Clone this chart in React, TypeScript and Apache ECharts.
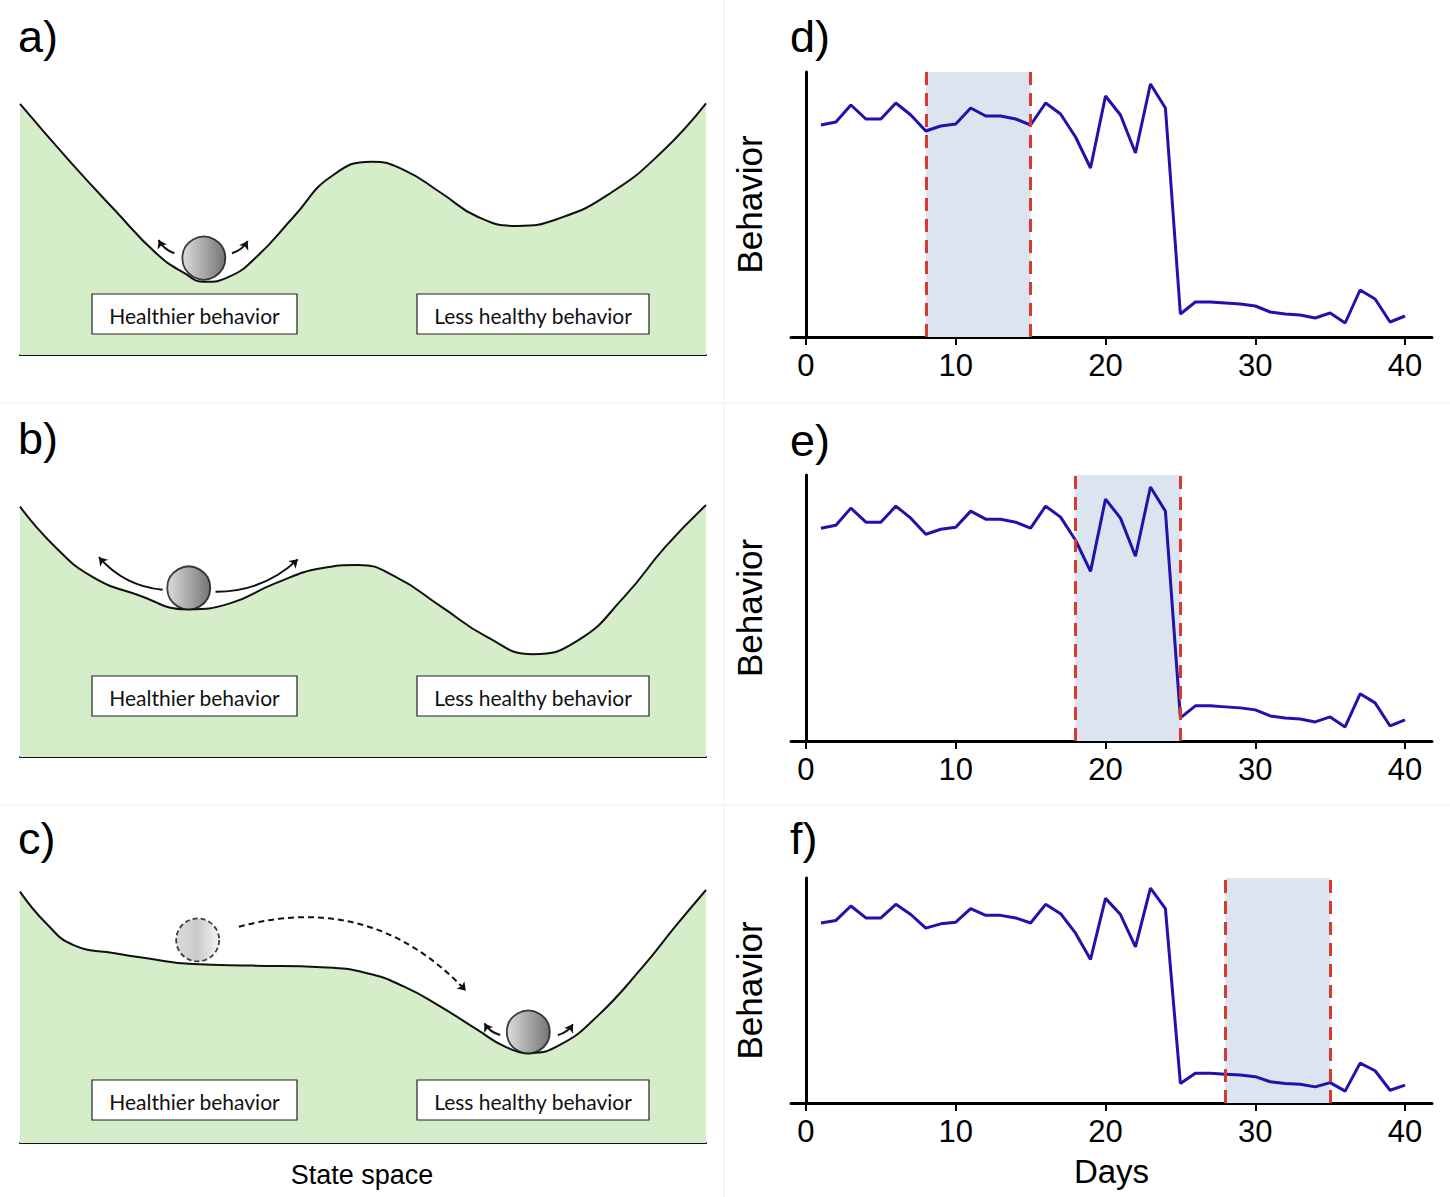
import React, { useEffect, useRef } from 'react';
import * as echarts from 'echarts';

// ---------- Data: right panels (d, e, f) ----------
const days = [1, 2, 3, 4, 5, 6, 7, 8, 9, 10, 11, 12, 13, 14, 15, 16, 17, 18, 19, 20,
  21, 22, 23, 24, 25, 26, 27, 28, 29, 30, 31, 32, 33, 34, 35, 36, 37, 38, 39, 40];
const behavior = [212, 215, 232, 218, 218, 234, 222, 206, 211, 213, 229, 221, 221, 218, 212, 234, 223, 200, 169, 241,
  222, 184, 253, 229, 23, 35, 35, 34, 33, 31, 25, 23, 22, 19, 24, 14, 47, 38, 15, 21];
const windowD = [8, 15];
const windowE = [18, 25];
const windowF = [28, 35];
const xTickValues = [0, 10, 20, 30, 40];

// ---------- Data: left panels (a, b, c) — landscape (state space, potential) ----------
const landscapeA = [[0, 93.0], [7.1, 72.2], [13.8, 53.7], [19.8, 37.8], [23.9, 30.4], [26.9, 27.1], [30.5, 29.0],
  [34.5, 36.4], [39.9, 51.2], [45.3, 66.0], [51.3, 71.6], [56.0, 68.5], [61.4, 60.0], [66.7, 51.2], [72.4, 47.8],
  [78.7, 50.7], [86.1, 60.0], [93.4, 74.8], [100, 93.2]];
const landscapeB = [[0, 92.7], [5.1, 77.9], [10.5, 66.8], [17.2, 60.0], [24.5, 54.7], [30.6, 56.9], [37.2, 64.3],
  [43.9, 69.9], [49.3, 71.1], [54.7, 66.8], [61.4, 55.7], [68.0, 44.6], [74.7, 38.1], [81.4, 43.3], [88.1, 59.4],
  [94.1, 77.9], [100, 93.3]];
const landscapeC = [[0, 93.1], [3.8, 81.4], [7.8, 73.3], [13.8, 70.3], [18.5, 68.4], [25.2, 66.3], [33.9, 65.7],
  [43.9, 65.1], [50.6, 62.9], [56.0, 57.9], [61.3, 50.5], [66.7, 41.9], [70.7, 35.7], [74.4, 33.4], [78.7, 36.3],
  [84.1, 46.8], [90.8, 65.3], [95.5, 80.1], [100, 93.7]];

const ballA = [[26.8, 35.9]];
const ballB = [[24.6, 62.6]];
const ballCold = [[25.9, 75.2]];
const ballCnew = [[74.1, 41.1]];

const arrowsA = [
  { from: [22.5, 37.7], to: [20.2, 42.6], bend: 0.2 },
  { from: [30.9, 37.7], to: [33.2, 42.2], bend: -0.2 },
];
const arrowsB = [
  { from: [20.8, 61.9], to: [11.5, 74.0], bend: 0.2 },
  { from: [28.5, 61.2], to: [40.5, 73.2], bend: -0.2 },
];
const arrowsC = [
  { from: [70.0, 40.0], to: [67.7, 44.3], bend: 0.2 },
  { from: [78.4, 40.0], to: [80.6, 44.0], bend: -0.2 },
];
const arrowCJump = [{ from: [31.9, 80.1], to: [65.0, 56.4], bend: 0.3 }];

const boxLabels = ['Healthier behavior', 'Less healthy behavior'];
const panelLetters = ['a)', 'b)', 'c)', 'd)', 'e)', 'f)'];

const GREEN = '#d5edc8';
const FONT = '"Liberation Sans", Arial, sans-serif';

export default function App() {
  const ref = useRef<HTMLDivElement>(null);

  useEffect(() => {
    document.body.style.margin = '0';
    const chart = echarts.init(ref.current!, null, { renderer: 'svg' });

    const leftTops = [85, 487, 873];
    const rightGrids = [
      { top: 72, height: 265 },
      { top: 475, height: 266 },
      { top: 878, height: 225 },
    ];

    const grid: any[] = [];
    const xAxis: any[] = [];
    const yAxis: any[] = [];
    const series: any[] = [];

    leftTops.forEach((top, i) => {
      grid.push({ left: 20, top, width: 686, height: 270 });
      xAxis.push({
        type: 'value', gridIndex: i, min: 0, max: 100,
        axisLine: { show: true, lineStyle: { color: '#111', width: 2 } },
        axisTick: { show: false }, axisLabel: { show: false }, splitLine: { show: false },
      });
      yAxis.push({ type: 'value', gridIndex: i, min: 0, max: 100, show: false });
    });

    rightGrids.forEach((g, i) => {
      const gi = i + 3;
      grid.push({ left: 791, top: g.top, width: 641, height: g.height });
      xAxis.push({
        type: 'value', gridIndex: gi, min: -1, max: 41.8,
        axisLine: { show: true, lineStyle: { color: '#000', width: 3 } },
        axisTick: { show: true, customValues: xTickValues, length: 8, lineStyle: { color: '#000', width: 2 } },
        axisLabel: { show: true, customValues: xTickValues, fontSize: 31, fontFamily: FONT, color: '#000', margin: 13 },
        splitLine: { show: false },
        name: i === 2 ? 'Days' : '',
        nameLocation: 'middle', nameGap: 52,
        nameTextStyle: { fontSize: 33, fontFamily: FONT, color: '#000' },
      });
      yAxis.push({
        type: 'value', gridIndex: gi, min: 0, max: 265,
        axisLine: { show: true, lineStyle: { color: '#000', width: 3 } },
        axisTick: { show: false }, axisLabel: { show: false }, splitLine: { show: false },
        name: 'Behavior', nameLocation: 'middle', nameGap: 24, nameRotate: 90,
        nameTextStyle: { fontSize: 35, fontFamily: FONT, color: '#000' },
      });
    });

    const landscapes = [landscapeA, landscapeB, landscapeC];
    landscapes.forEach((data, i) => {
      series.push({
        type: 'line', xAxisIndex: i, yAxisIndex: i, data, smooth: 0.5, symbol: 'none',
        lineStyle: { color: '#111', width: 2 },
        areaStyle: { color: GREEN, opacity: 1 },
        z: 2,
      });
    });

    const solidBall = {
      color: {
        type: 'linear', x: 0, y: 0, x2: 1, y2: 0,
        colorStops: [{ offset: 0, color: '#d4d4d4' }, { offset: 1, color: '#515151' }],
      },
      borderColor: '#111', borderWidth: 1.8,
    };
    const ghostBall = {
      color: {
        type: 'linear', x: 0, y: 0, x2: 1, y2: 0,
        colorStops: [{ offset: 0, color: '#d2d2d2' }, { offset: 0.5, color: '#bdbdbd' }, { offset: 1, color: '#f2f2f2' }],
      },
      borderColor: '#111', borderWidth: 1.8, borderType: [5, 3],
    };
    const balls: [number[][], number, any][] = [
      [ballA, 0, solidBall], [ballB, 1, solidBall], [ballCold, 2, ghostBall], [ballCnew, 2, solidBall],
    ];
    balls.forEach(([data, idx, style]) => {
      series.push({
        type: 'scatter', xAxisIndex: idx, yAxisIndex: idx, data, symbol: 'circle', symbolSize: 43,
        itemStyle: style, z: 5, silent: true,
      });
    });

    const arrowSets: [any[], number, boolean][] = [
      [arrowsA, 0, false], [arrowsB, 1, false], [arrowsC, 2, false], [arrowCJump, 2, true],
    ];
    arrowSets.forEach(([arr, idx, dashed]) => {
      series.push({
        type: 'lines', coordinateSystem: 'cartesian2d', xAxisIndex: idx, yAxisIndex: idx,
        symbol: ['none', 'arrow'], symbolSize: 8, silent: true, z: 6,
        lineStyle: { color: '#111', width: dashed ? 2 : 2, type: dashed ? [6, 4] : 'solid', opacity: 1 },
        data: arr.map((a: any) => ({ coords: [a.from, a.to], lineStyle: { curveness: a.bend } })),
      });
    });

    const windows = [windowD, windowE, windowF];
    windows.forEach((w, i) => {
      const gi = i + 3;
      series.push({
        type: 'line', xAxisIndex: gi, yAxisIndex: gi,
        data: days.map((d, k) => [d, behavior[k]]),
        symbol: 'none', lineStyle: { color: '#2211aa', width: 3 }, z: 4,
        markArea: {
          silent: true,
          itemStyle: { color: '#dce5ef', opacity: 1 },
          data: [[{ xAxis: w[0] }, { xAxis: w[1] }]],
        },
        markLine: {
          silent: true, symbol: 'none', label: { show: false },
          lineStyle: { color: '#d83a2e', width: 3, type: [13, 8] },
          data: [{ xAxis: w[0] }, { xAxis: w[1] }],
        },
      });
    });

    const graphic: any[] = [];
    graphic.push({ type: 'line', shape: { x1: 724, y1: 0, x2: 724, y2: 1197 }, style: { stroke: '#f0f0f0', lineWidth: 1 }, z: 0 });
    graphic.push({ type: 'line', shape: { x1: 0, y1: 403, x2: 1450, y2: 403 }, style: { stroke: '#f0f0f0', lineWidth: 1 }, z: 0 });
    graphic.push({ type: 'line', shape: { x1: 0, y1: 805, x2: 1450, y2: 805 }, style: { stroke: '#f0f0f0', lineWidth: 1 }, z: 0 });

    const boxTops = [294, 676, 1080];
    const boxXs = [[92, 205], [417, 232]];
    boxTops.forEach((by) => {
      boxXs.forEach(([bx, bw], j) => {
        graphic.push({
          type: 'rect', shape: { x: bx, y: by, width: bw, height: 40 },
          style: { fill: '#fff', stroke: '#222', lineWidth: 1.2 }, z: 100,
        });
        graphic.push({
          type: 'text', x: bx + bw / 2, y: by + 21,
          style: { text: boxLabels[j], align: 'center', verticalAlign: 'middle', fontSize: 21, fontFamily: 'Lato', fill: '#111' },
          z: 101,
        });
      });
    });

    const letterPos = [[18, 36], [18, 438], [18, 838], [790, 36], [790, 440], [790, 838]];
    panelLetters.forEach((t, i) => {
      graphic.push({
        type: 'text', x: letterPos[i][0], y: letterPos[i][1],
        style: { text: t, align: 'left', verticalAlign: 'middle', fontSize: 45, fontFamily: FONT, fill: '#000' },
        z: 100,
      });
    });
    graphic.push({
      type: 'text', x: 362, y: 1175,
      style: { text: 'State space', align: 'center', verticalAlign: 'middle', fontSize: 27, fontFamily: FONT, fill: '#000' },
      z: 100,
    });

    chart.setOption({
      animation: false,
      backgroundColor: '#fff',
      grid, xAxis, yAxis, series, graphic,
    });

    return () => chart.dispose();
  }, []);

  return <div ref={ref} style={{ position: 'fixed', left: 0, top: 0, width: 1450, height: 1197 }} />;
}
